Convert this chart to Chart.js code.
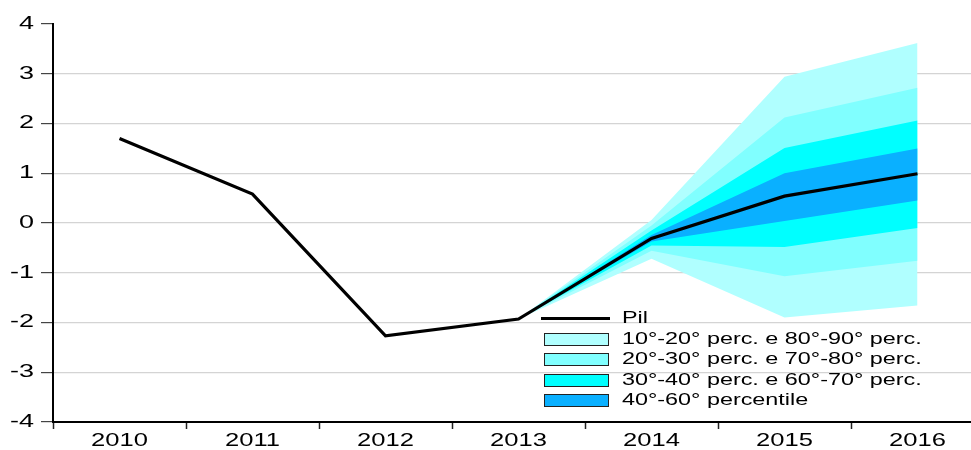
<!DOCTYPE html>
<html>
<head>
<meta charset="utf-8">
<script src="https://cdn.jsdelivr.net/npm/chart.js@4.4.1/dist/chart.umd.min.js"></script>
<style>
  html, body { margin: 0; padding: 0; background: #fff; }
  #wrap { position: relative; width: 971px; height: 450px; overflow: hidden; }
  #fanChart { position: absolute; left: 0; top: 0; }
  #legend { position: absolute; left: 541px; top: 308px; font-family: "Liberation Sans", Arial, sans-serif; font-size: 16px; color: #000; }
  .row { position: absolute; left: 0; white-space: nowrap; height: 20px; line-height: 20px; }
  .sym { position: absolute; left: 0; }
  .txt { position: absolute; left: 81px; top: 0; transform: scaleX(1.46); transform-origin: left center; }
</style>
</head>
<body>
<div id="wrap">
  <canvas id="fanChart" width="1000" height="450"></canvas>
  <div id="legend"></div>
</div>
<script>
var years = ['2010', '2011', '2012', '2013', '2014', '2015', '2016'];
var pil = [1.70, 0.58, -2.27, -1.93, -0.31, 0.54, 0.99];

// band edges (percentiles), forecast starts in 2013
var p10 = [null, null, null, -1.93, -0.72, -1.90, -1.66];
var p90 = [null, null, null, -1.93, 0.06, 2.94, 3.62];
var p20 = [null, null, null, -1.93, -0.56, -1.07, -0.76];
var p80 = [null, null, null, -1.93, -0.05, 2.12, 2.72];
var p30 = [null, null, null, -1.93, -0.45, -0.48, -0.10];
var p70 = [null, null, null, -1.93, -0.15, 1.51, 2.06];
var p40 = [null, null, null, -1.93, -0.37, 0.04, 0.45];
var p60 = [null, null, null, -1.93, -0.24, 1.00, 1.50];

var yTicks = [-4, -3, -2, -1, 0, 1, 2, 3, 4];

var bandLabels = [
  '10°-20° perc. e 80°-90° perc.',
  '20°-30° perc. e 70°-80° perc.',
  '30°-40° perc. e 60°-70° perc.',
  '40°-60° percentile'
];
var bandColors = ['#b0ffff', '#80ffff', '#00ffff', '#0ab0ff'];
var bandUpper = [p90, p80, p70, p60];
var bandLower = [p10, p20, p30, p40];

var datasets = [];
datasets.push({
  label: 'Pil',
  data: pil,
  borderColor: '#000',
  borderWidth: 3.2,
  pointRadius: 0,
  fill: false,
  order: 0
});
for (var i = 0; i < bandLabels.length; i++) {
  var lowIdx = datasets.length + 1;
  datasets.push({
    label: bandLabels[i],
    data: bandUpper[i],
    borderWidth: 0,
    borderColor: 'rgba(0,0,0,0)',
    backgroundColor: bandColors[i],
    pointRadius: 0,
    fill: { target: lowIdx },
    order: 4 - i + 1
  });
  datasets.push({
    label: bandLabels[i] + ' low',
    data: bandLower[i],
    borderWidth: 0,
    borderColor: 'rgba(0,0,0,0)',
    pointRadius: 0,
    fill: false,
    order: 4 - i + 1
  });
}

var fontFamily = '"Liberation Sans", Arial, sans-serif';
var font = { family: fontFamily, size: 18 };
var stretch = 1.42;

// the original's tick labels are drawn horizontally stretched
var wideTicks = {
  id: 'wideTicks',
  afterDraw: function (chart) {
    var c = chart.ctx;
    var xs = chart.scales.x, ys = chart.scales.y;
    c.save();
    c.fillStyle = '#000';
    c.font = '18px ' + fontFamily;
    c.textBaseline = 'middle';
    c.textAlign = 'center';
    xs.ticks.forEach(function (t, k) {
      c.save();
      c.translate(xs.getPixelForTick(k), xs.top + 19.5);
      c.scale(stretch, 1);
      c.fillText(xs.getLabelForValue(t.value), 0, 0);
      c.restore();
    });
    c.textAlign = 'right';
    ys.ticks.forEach(function (t, k) {
      c.save();
      c.translate(ys.right - 19, ys.getPixelForTick(k));
      c.scale(1.5, 1);
      c.fillText(String(t.value), 0, 0);
      c.restore();
    });
    c.restore();
  }
};

var ctx = document.getElementById('fanChart');
var fanChart = new Chart(ctx, {
  type: 'line',
  data: { labels: years, datasets: datasets },
  plugins: [wideTicks],
  options: {
    responsive: false,
    animation: false,
    layout: { padding: { top: 24, right: 16, left: 0, bottom: 0 } },
    plugins: { legend: { display: false }, tooltip: { enabled: false } },
    elements: { line: { tension: 0 } },
    scales: {
      x: {
        type: 'category',
        offset: true,
        grid: { offset: true, drawOnChartArea: false, tickLength: 7, tickColor: '#222', tickWidth: 1.5 },
        border: { color: '#000', width: 2 },
        ticks: { color: 'rgba(0,0,0,0)', font: font, padding: 2, maxRotation: 0 },
        afterFit: function (s) { s.height = 28; }
      },
      y: {
        min: -4,
        max: 4,
        afterBuildTicks: function (s) { s.ticks = yTicks.map(function (v) { return { value: v }; }); },
        grid: {
          color: function (c) {
            if (c.tick && (c.tick.value === 4 || c.tick.value === -4)) return 'rgba(0,0,0,0)';
            return '#d4d4d4';
          },
          tickColor: '#444',
          tickLength: 12,
          lineWidth: 1.2
        },
        border: { color: '#000', width: 2 },
        ticks: { color: 'rgba(0,0,0,0)', font: font, padding: 7 },
        afterFit: function (s) { s.width = 53; }
      }
    }
  }
});

// legend
var legend = document.getElementById('legend');
var rows = [{ label: 'Pil', line: true }];
for (var j = 0; j < bandLabels.length; j++) rows.push({ label: bandLabels[j], color: bandColors[j] });
var tops = [0, 21, 41, 62, 82];
rows.forEach(function (r, k) {
  var row = document.createElement('div');
  row.className = 'row';
  row.style.top = tops[k] + 'px';
  var sym = document.createElement('div');
  sym.className = 'sym';
  if (r.line) {
    sym.style.cssText = 'left:0;top:9px;width:69px;height:3px;background:#000;';
  } else {
    sym.style.cssText = 'left:3px;top:4px;width:63px;height:11px;border:1px solid #222;background:' + r.color + ';';
  }
  var txt = document.createElement('span');
  txt.className = 'txt';
  txt.textContent = r.label;
  row.appendChild(sym);
  row.appendChild(txt);
  legend.appendChild(row);
});
</script>
</body>
</html>
